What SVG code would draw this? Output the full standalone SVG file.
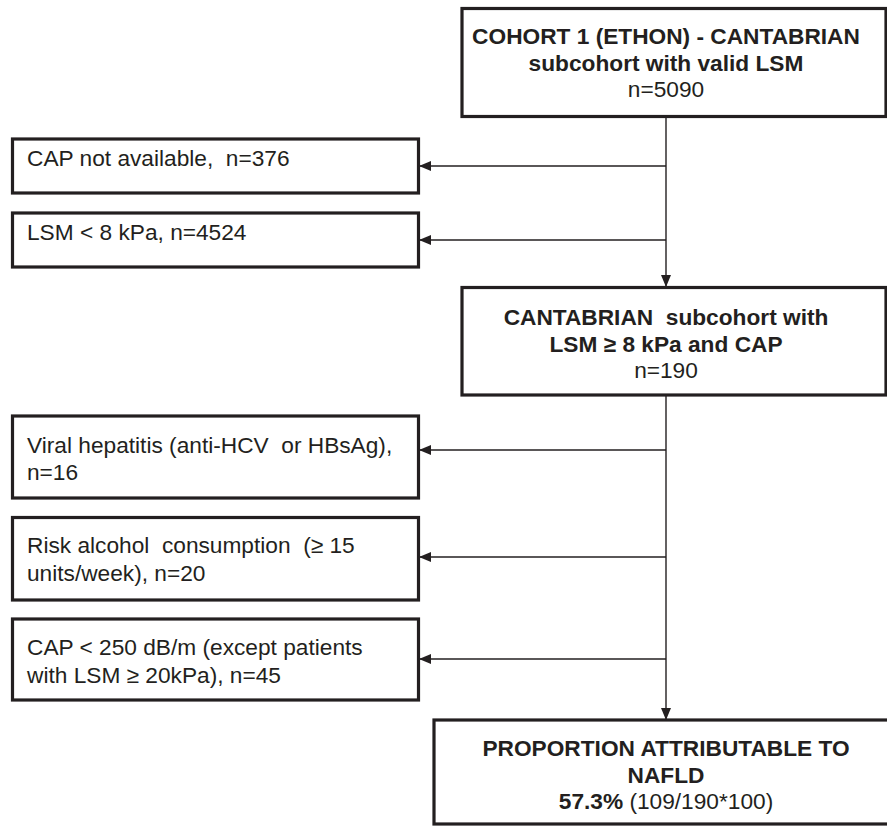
<svg xmlns="http://www.w3.org/2000/svg" width="887" height="826" viewBox="0 0 887 826">
<defs>
<marker id="ah" markerWidth="12" markerHeight="10" refX="11" refY="5" orient="auto" markerUnits="userSpaceOnUse">
<path d="M0,0 L12,5 L0,10 Z" fill="#231f20"/>
</marker>
<style>
.box{fill:#fff;stroke:#231f20;stroke-width:3.2}
.t{font-family:"Liberation Sans",Arial,sans-serif;font-size:22.7px;fill:#231f20;white-space:pre}
.b{font-weight:bold}
.c{text-anchor:middle}
.con{stroke:#231f20;stroke-width:1.4;fill:none}
</style>
</defs>
<rect width="887" height="826" fill="#fff"/>
<g id="connectors">
<line class="con" x1="666" y1="117" x2="666" y2="286" marker-end="url(#ah)"/>
<line class="con" x1="666" y1="166" x2="420" y2="166" marker-end="url(#ah)"/>
<line class="con" x1="666" y1="240" x2="420" y2="240" marker-end="url(#ah)"/>
<line class="con" x1="666" y1="395" x2="666" y2="719" marker-end="url(#ah)"/>
<line class="con" x1="666" y1="450" x2="420" y2="450" marker-end="url(#ah)"/>
<line class="con" x1="666" y1="557" x2="420" y2="557" marker-end="url(#ah)"/>
<line class="con" x1="666" y1="659" x2="420" y2="659" marker-end="url(#ah)"/>
</g>
<g id="n1">
<rect class="box" x="462" y="8.5" width="424" height="108"/>
<text class="t b c" x="666" y="44">COHORT 1 (ETHON) - CANTABRIAN</text>
<text class="t b c" x="666" y="71">subcohort with valid LSM</text>
<text class="t c" x="666" y="97">n=5090</text>
</g>
<g id="e1">
<rect class="box" x="12.5" y="139" width="406" height="54"/>
<text class="t" x="27" y="166" xml:space="preserve">CAP not available,  n=376</text>
</g>
<g id="e2">
<rect class="box" x="12.5" y="213" width="406" height="54"/>
<text class="t" x="27" y="240">LSM &lt; 8 kPa, n=4524</text>
</g>
<g id="n2">
<rect class="box" x="462" y="287.5" width="424" height="107.5"/>
<text class="t b c" x="666" y="325" xml:space="preserve">CANTABRIAN  subcohort with</text>
<text class="t b c" x="666" y="352">LSM ≥ 8 kPa and CAP</text>
<text class="t c" x="666" y="378">n=190</text>
</g>
<g id="e3">
<rect class="box" x="12.5" y="416" width="406" height="82"/>
<text class="t" x="27" y="453" xml:space="preserve">Viral hepatitis (anti-HCV  or HBsAg),</text>
<text class="t" x="27" y="480">n=16</text>
</g>
<g id="e4">
<rect class="box" x="12.5" y="517.5" width="406" height="82.5"/>
<text class="t" x="27" y="553" xml:space="preserve">Risk alcohol  consumption  (≥ 15</text>
<text class="t" x="27" y="581">units/week), n=20</text>
</g>
<g id="e5">
<rect class="box" x="12.5" y="619" width="406" height="81"/>
<text class="t" x="27" y="655">CAP &lt; 250 dB/m (except patients</text>
<text class="t" x="27" y="683">with LSM ≥ 20kPa), n=45</text>
</g>
<g id="n3">
<rect class="box" x="434" y="720" width="466" height="104"/>
<text class="t b c" x="666" y="756">PROPORTION ATTRIBUTABLE TO</text>
<text class="t b c" x="666" y="783">NAFLD</text>
<text class="t c" x="666" y="809"><tspan class="b">57.3%</tspan> (109/190*100)</text>
</g>
</svg>
